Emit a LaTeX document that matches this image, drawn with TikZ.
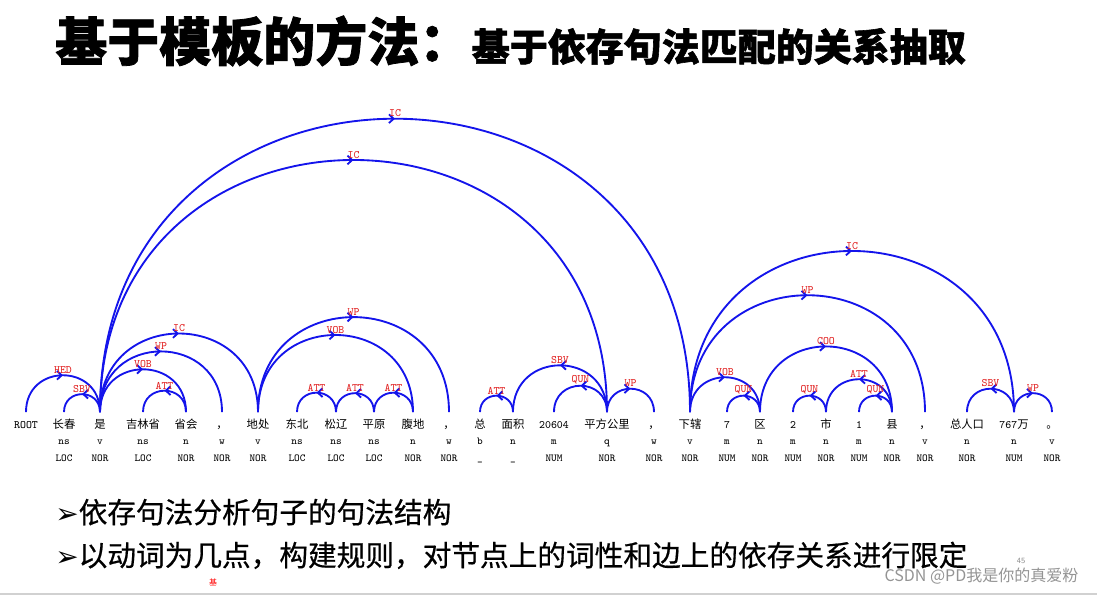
\documentclass[tikz,border=0pt]{standalone}
\usepackage{fontspec}
\newfontfamily\cjk{Noto Sans CJK SC}
\newfontfamily\cjkheavy{Noto Sans CJK SC}[BoldFeatures={FakeBold=1.5}]
\newfontfamily\cjkmid{Noto Sans CJK SC}[FakeBold=0.6]
\newfontfamily\symb{DejaVu Sans}
\usetikzlibrary{positioning,arrows.meta,decorations.markings}
\definecolor{arcblue}{RGB}{20,20,235}
\definecolor{labred}{RGB}{225,35,35}

\begin{document}
\begin{tikzpicture}[x=0.75pt,y=0.75pt,
    word/.style={anchor=base, inner sep=0pt, text height=12.5pt, font=\cjk\fontsize{8.5}{8.5}\selectfont},
    tag/.style={anchor=base, inner sep=0pt, font=\ttfamily\fontsize{8}{8}\selectfont},
    dep/.style={draw=arcblue, line width=1.4pt, postaction={decorate},
      decoration={markings, mark=at position 0.5 with {\arrow{Straight Barb[length=3.5pt,width=6.5pt]}}}},
    lab/.style={midway, above=0.5pt, inner sep=0pt, text=labred, font=\ttfamily\fontsize{8.5}{8.5}\selectfont},
    bullet/.style={anchor=base west, inner sep=0pt, font=\cjkmid\fontsize{21.5}{21.5}\selectfont}]
    \useasboundingbox (0,0) rectangle (1097,-595);

    % 标题
    \node[anchor=base west, inner sep=0pt, font=\cjkheavy\bfseries\fontsize{39}{39}\selectfont] (title) at (55,-61) {基于模板的方法：};
    \node[anchor=base west, inner sep=0pt, font=\cjkheavy\bfseries\fontsize{28.5}{28.5}\selectfont] (subtitle) at (title.base east) {基于依存句法匹配的关系抽取};

    % 词、词性、实体类别
    \node[word] (w1) at (26,-429) {\ttfamily ROOT};
    \foreach \x/\w/\p/\e [count=\i from 2] in {
      64/长春/ns/LOC, 100/是/v/NOR, 143/吉林省/ns/LOC, 186/省会/n/NOR, 222/，/w/NOR,
      258/地处/v/NOR, 297/东北/ns/LOC, 336/松辽/ns/LOC, 374/平原/ns/LOC, 413/腹地/n/NOR,
      449/，/w/NOR, 480/总/b/\_, 513/面积/n/\_, 554/{\ttfamily 20604}/m/NUM, 607/平方公里/q/NOR,
      654/，/w/NOR, 690/下辖/v/NOR, 727/{\ttfamily 7}/m/NUM, 760/区/n/NOR, 793/{\ttfamily 2}/m/NUM,
      826/市/n/NOR, 859/{\ttfamily 1}/m/NUM, 892/县/n/NOR, 925/，/v/NOR, 967/总人口/n/NOR,
      1014/{\ttfamily 767}万/n/NUM, 1052/。/v/NOR}
    {
      \node[word] (w\i) at (\x,-429) {\w};
      \node[tag] (p\i) at (\x,-445) {\p};
      \node[tag] (e\i) at (\x,-462) {\e};
    }

    % 依存弧
    \foreach \h/\d/\l in {1/3/HED, 3/2/SBV, 3/5/VOB, 5/4/ATT, 3/6/WP, 3/7/IC, 3/16/IC, 3/18/IC,
      7/11/VOB, 7/12/WP, 9/8/ATT, 10/9/ATT, 11/10/ATT, 14/13/ATT, 16/14/SBV, 16/15/QUN, 16/17/WP,
      18/20/VOB, 20/19/QUN, 20/24/COO, 18/25/WP, 18/27/IC, 22/21/QUN, 24/22/ATT, 24/23/QUN,
      27/26/SBV, 27/28/WP}
      \draw[dep] (w\h.north) to[out=90,in=90,looseness=1.7] node[lab]{\l} (w\d.north);

    % 要点
    \node[bullet] (b1) at (55,-523) {{\symb\fontsize{21}{21}\selectfont ➢}依存句法分析句子的句法结构};
    \node[bullet] (b2) at (55,-566) {{\symb\fontsize{21}{21}\selectfont ➢}以动词为几点，构建规则，对节点上的词性和边上的依存关系进行限定};

    \node[text=red, font=\cjk\fontsize{6}{6}\selectfont] (mark) at (213,-582) {基};
    \node[text=black!45, font=\sffamily\fontsize{6}{6}\selectfont] (page) at (1021,-561) {45};
    \node[anchor=east, text=black!42, font=\cjk\fontsize{12}{12}\selectfont] (wm) at (1083,-576) {CSDN @PD我是你的真爱粉};
    \draw[black!18, line width=1pt] (0,-594) -- (1097,-594);
\end{tikzpicture}
\end{document}
